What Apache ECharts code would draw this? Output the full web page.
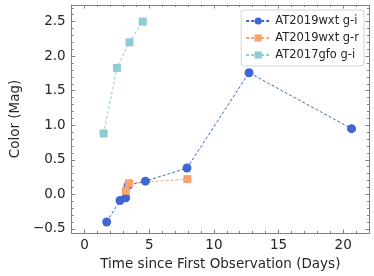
<!DOCTYPE html>
<html><head><meta charset="utf-8">
<script src="https://cdn.jsdelivr.net/npm/echarts@6/dist/echarts.min.js"></script>
<style>html,body{margin:0;padding:0;background:#fff}#c{width:374px;height:276px}</style>
</head><body><div id="c"></div>
<script>
const seriesNames = ["AT2019wxt g-i", "AT2019wxt g-r", "AT2017gfo g-i"];
const wxtGI_t = [1.71, 2.74, 3.18, 3.37, 4.7, 7.92, 12.72, 20.65];
const wxtGI_c = [-0.40, -0.09, -0.05, 0.13, 0.19, 0.38, 1.76, 0.95];
const wxtGR_t = [3.18, 3.43, 7.95];
const wxtGR_c = [0.05, 0.16, 0.22];
const gfoGI_t = [1.47, 2.5, 3.47, 4.5];
const gfoGI_c = [0.88, 1.83, 2.2, 2.5];
const xTicks = [0, 5, 10, 15, 20];
const yTicks = [-0.5, 0.0, 0.5, 1.0, 1.5, 2.0, 2.5];

const colors = ["#3f66d2", "#f9a46e", "#8ecbd3"];
const font = "DejaVu Sans";
const xMinor = []; for (let i = -1; i <= 22; i++) xMinor.push(i);
const yMinor = []; for (let i = -5; i <= 27; i++) yMinor.push(+(i / 10).toFixed(1));
const xr = {min: -1, max: 22}, yr = {min: -0.56, max: 2.74};
const axisLine = {show: true, onZero: false, lineStyle: {color: "#808080", width: 1}};
const noLine = {show: false, onZero: false};
function xa(pos, labels, ticks, len, showLine, name) {
  return Object.assign({type: "value", position: pos, min: xr.min, max: xr.max,
    axisLine: showLine ? axisLine : noLine, splitLine: {show: false},
    axisTick: {show: true, inside: true, length: len, customValues: ticks, lineStyle: {color: "#808080"}},
    axisLabel: labels ? {show: true, customValues: ticks, formatter: v => String(v), fontFamily: font, fontSize: 13.5, color: "#262626", margin: 5} : {show: false}
  }, name ? {name: name, nameLocation: "middle", nameGap: 24, nameTextStyle: {fontFamily: font, fontSize: 13.5, color: "#262626"}} : {});
}
function ya(pos, labels, ticks, len, showLine, name) {
  return Object.assign({type: "value", position: pos, min: yr.min, max: yr.max,
    axisLine: showLine ? axisLine : noLine, splitLine: {show: false},
    axisTick: {show: true, inside: true, length: len, customValues: ticks, lineStyle: {color: "#808080"}},
    axisLabel: labels ? {show: true, customValues: ticks, formatter: v => (v < 0 ? "\u2212" : "") + Math.abs(v).toFixed(1), fontFamily: font, fontSize: 13.5, color: "#262626", margin: 6} : {show: false}
  }, name ? {name: name, nameLocation: "middle", nameGap: 43, nameTextStyle: {fontFamily: font, fontSize: 13.5, color: "#262626"}} : {});
}
const pairs = (t, c) => t.map((v, i) => [v, c[i]]);
const mk = (name, t, c, color, symbol, size) => ({
  name: name, type: "line", xAxisIndex: 0, yAxisIndex: 0, data: pairs(t, c),
  symbol: symbol, symbolSize: size, showSymbol: true,
  lineStyle: {color: color, width: 1, type: [3, 2]}, itemStyle: {color: color, opacity: 1},
  animation: false
});
const chart = echarts.init(document.getElementById("c"));
chart.setOption({
  animation: false,
  grid: {left: 56, right: 5, top: 5, bottom: 37},
  xAxis: [
    xa("bottom", true, xTicks, 3.5, true, "Time since First Observation (Days)"),
    xa("bottom", false, xMinor, 2, false),
    xa("top", false, xTicks, 3.5, true),
    xa("top", false, xMinor, 2, false)
  ],
  yAxis: [
    ya("left", true, yTicks, 3.5, true, "Color (Mag)"),
    ya("left", false, yMinor, 2, false),
    ya("right", false, yTicks, 3.5, true),
    ya("right", false, yMinor, 2, false)
  ],
  legend: {
    data: seriesNames, orient: "vertical", right: 10, top: 10,
    backgroundColor: "#fff", borderColor: "#d4d4d4", borderWidth: 1, borderRadius: 3,
    padding: [5, 5, 5, 4], itemGap: 5, itemWidth: 24, itemHeight: 9,
    textStyle: {fontFamily: font, fontSize: 11.5, color: "#262626"}
  },
  series: [
    mk(seriesNames[0], wxtGI_t, wxtGI_c, colors[0], "circle", 9),
    mk(seriesNames[1], wxtGR_t, wxtGR_c, colors[1], "rect", 8),
    mk(seriesNames[2], gfoGI_t, gfoGI_c, colors[2], "rect", 8)
  ]
});
</script></body></html>
